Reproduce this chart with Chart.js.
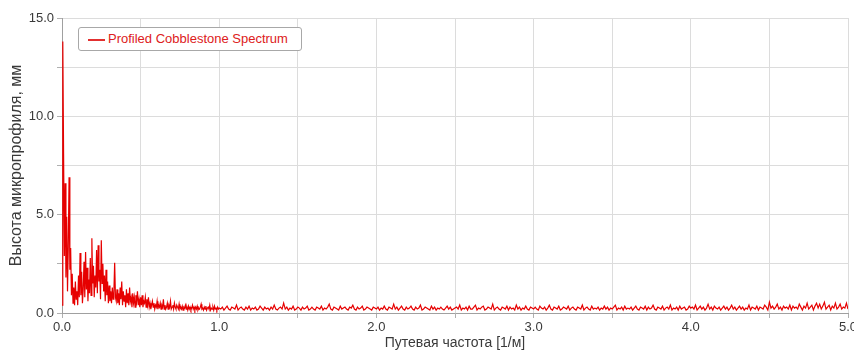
<!DOCTYPE html>
<html><head><meta charset="utf-8">
<script src="https://cdn.jsdelivr.net/npm/chart.js@4/dist/chart.umd.min.js"></script>
<style>
html,body{margin:0;padding:0;background:#fff;}
#wrap{position:relative;width:854px;height:354px;}
#legend{position:absolute;left:78px;top:27px;width:224px;height:24px;border:1px solid #a8a8a8;border-radius:3px;background:#fff;box-sizing:border-box;font:13px "Liberation Sans",Arial,sans-serif;color:#dd2020;white-space:nowrap;}
#legend .ln{position:absolute;left:9px;top:11px;width:17px;height:2px;background:#e23030;display:block;}
#legend .tx{position:absolute;left:29px;top:3px;}
</style></head>
<body><div id="wrap"><canvas id="c" width="854" height="354"></canvas>
<div id="legend"><div class="ln"></div><span class="tx" id="legendText"></span></div></div>
<script>
const seriesName = "Profiled Cobblestone Spectrum";
const xTitle = "Путевая частота [1/м]";
const yTitle = "Высота микропрофиля, мм";
// Low-frequency part: 0.000 .. 1.000, sample step 0.005
const lowStart = 0, lowStep = 0.005;
const lowValues = [
0.4,13.8,8.1,2.9,6.6,1.8,4.9,1.1,3.4,6.9,
2.2,3.3,0.9,2.0,0.5,1.3,0.4,1.6,0.7,1.1,
0.4,1.9,0.8,3.05,0.9,2.1,0.5,1.2,2.6,0.8,
3.1,1.2,2.3,0.6,1.7,1.0,2.8,0.9,3.8,1.5,
2.4,0.8,1.9,1.3,3.2,1.0,3.45,1.6,2.2,0.7,
3.7,1.5,2.5,1.1,1.9,0.6,2.2,0.9,1.6,0.5,
1.4,0.6,1.1,0.5,1.3,0.7,1.0,2.55,0.8,0.6,
1.2,0.5,1.0,0.4,1.3,0.7,1.6,0.4,1.1,0.6,
0.9,0.3,1.2,0.5,1.0,0.4,1.3,0.6,0.8,0.3,
1.0,0.5,0.8,0.3,0.9,0.6,1.1,0.4,0.7,0.3,
0.8,0.4,0.9,0.3,0.6,0.5,0.8,0.3,0.7,0.4,
0.8,0.3,0.5,0.2,0.4,0.6,0.3,0.5,0.2,0.4,
0.3,0.6,0.2,0.4,0.3,0.5,0.2,0.4,0.3,0.7,
0.2,0.4,0.2,0.3,0.5,0.2,0.4,0.3,0.6,0.2,
0.3,0.4,0.2,0.5,0.3,0.2,0.4,0.3,0.2,0.45,
0.2,0.3,0.2,0.35,0.15,0.3,0.25,0.4,0.2,0.3,
0.15,0.35,0.2,0.3,0.15,0.25,0.4,0.2,0.3,0.15,
0.3,0.2,0.35,0.15,0.25,0.2,0.3,0.45,0.2,0.25,
0.15,0.3,0.2,0.35,0.15,0.25,0.3,0.2,0.4,0.15,
0.25,0.2,0.3,0.15,0.35,0.2,0.25,0.15,0.3,0.2,
0.25
];
// High-frequency part: 1.01 .. 5.00, sample step 0.01
const highStart = 1.01, highStep = 0.01;
const highValues = [
0.2,0.3,0.15,0.25,0.35,0.2,0.15,0.3,0.25,0.2,0.4,0.15,0.25,0.3,0.2,0.15,0.3,0.2,0.35,0.15,
0.25,0.2,0.3,0.15,0.2,0.35,0.25,0.15,0.3,0.2,0.25,0.15,0.3,0.2,0.4,0.2,0.15,0.25,0.3,0.2,
0.5,0.2,0.3,0.15,0.25,0.2,0.35,0.15,0.2,0.3,0.25,0.15,0.3,0.2,0.25,0.35,0.15,0.2,0.3,0.2,
0.15,0.3,0.25,0.2,0.35,0.15,0.25,0.2,0.3,0.45,0.2,0.15,0.3,0.25,0.2,0.15,0.35,0.2,0.25,0.3,
0.2,0.15,0.3,0.25,0.4,0.2,0.15,0.3,0.2,0.25,0.35,0.15,0.2,0.3,0.25,0.2,0.15,0.3,0.25,0.2,
0.3,0.15,0.25,0.2,0.35,0.2,0.15,0.3,0.25,0.2,0.45,0.2,0.3,0.15,0.25,0.35,0.2,0.15,0.3,0.2,
0.25,0.35,0.2,0.15,0.3,0.2,0.25,0.4,0.15,0.2,0.3,0.25,0.2,0.15,0.35,0.2,0.3,0.15,0.25,0.2,
0.3,0.2,0.15,0.25,0.35,0.2,0.3,0.15,0.2,0.25,0.3,0.2,0.4,0.15,0.25,0.2,0.3,0.15,0.35,0.2,
0.2,0.3,0.4,0.15,0.25,0.2,0.3,0.35,0.15,0.2,0.3,0.25,0.2,0.45,0.15,0.25,0.3,0.2,0.15,0.3,
0.25,0.2,0.35,0.15,0.3,0.2,0.25,0.15,0.4,0.2,0.3,0.15,0.25,0.2,0.35,0.2,0.15,0.3,0.25,0.2,
0.3,0.2,0.15,0.35,0.25,0.2,0.3,0.15,0.25,0.4,0.2,0.15,0.3,0.25,0.2,0.35,0.15,0.2,0.3,0.25,
0.2,0.35,0.15,0.25,0.3,0.2,0.15,0.3,0.25,0.2,0.4,0.15,0.25,0.3,0.2,0.15,0.35,0.2,0.25,0.2,
0.3,0.15,0.25,0.2,0.35,0.2,0.3,0.15,0.25,0.2,0.3,0.4,0.15,0.25,0.2,0.3,0.15,0.35,0.2,0.25,
0.2,0.3,0.15,0.25,0.35,0.2,0.15,0.3,0.25,0.2,0.35,0.15,0.3,0.2,0.25,0.4,0.2,0.15,0.3,0.25,
0.2,0.35,0.15,0.25,0.3,0.2,0.4,0.15,0.25,0.2,0.3,0.15,0.35,0.2,0.25,0.3,0.15,0.2,0.35,0.25,
0.3,0.2,0.4,0.15,0.25,0.35,0.2,0.3,0.15,0.25,0.45,0.2,0.3,0.15,0.35,0.25,0.2,0.3,0.15,0.25,
0.35,0.2,0.3,0.15,0.25,0.4,0.2,0.3,0.15,0.25,0.35,0.2,0.3,0.15,0.25,0.2,0.4,0.15,0.3,0.25,
0.2,0.35,0.15,0.3,0.25,0.2,0.4,0.3,0.15,0.55,0.25,0.35,0.2,0.3,0.45,0.2,0.3,0.15,0.35,0.25,
0.3,0.2,0.4,0.15,0.35,0.25,0.3,0.2,0.45,0.3,0.15,0.35,0.25,0.5,0.2,0.3,0.4,0.15,0.35,0.5,
0.25,0.45,0.2,0.35,0.55,0.2,0.3,0.4,0.15,0.35,0.25,0.5,0.2,0.3,0.45,0.2,0.3,0.25,0.5,0.2
];
const xTickLabels = ["0.0","1.0","2.0","3.0","4.0","5.0"];
const yTickLabels = ["0.0","5.0","10.0","15.0"];

document.getElementById('legendText').textContent = seriesName;

const points = [];
lowValues.forEach((v,i)=>points.push({x: +(lowStart + i*lowStep).toFixed(3), y: v}));
highValues.forEach((v,i)=>points.push({x: +(highStart + i*highStep).toFixed(3), y: v}));

const tickFont = {family: '"Liberation Sans", Arial, sans-serif', size: 13};
new Chart(document.getElementById('c'), {
  type: 'line',
  data: { datasets: [{ label: seriesName, data: points, borderColor: '#e60000', borderWidth: 1.2,
    pointRadius: 0, tension: 0, fill: false }] },
  options: {
    responsive: false, animation: false,
    layout: { padding: {left: 0, right: 6, top: 18, bottom: 0} },
    plugins: { legend: {display: false}, tooltip: {enabled: false} },
    scales: {
      x: { type: 'linear', min: 0, max: 5,
        afterFit(s){ s.height = 41; s.paddingLeft = 0; s.paddingRight = 0; },
        ticks: { stepSize: 0.5, autoSkip: false, maxRotation: 0, padding: 2, color: '#3a3a3a', font: tickFont,
          callback(v){ const s = (Math.round(v*10)/10).toFixed(1); return xTickLabels.includes(s) && Math.abs(v - Math.round(v)) < 1e-6 ? s : ''; } },
        grid: { color: '#dcdcdc', tickLength: 5, tickColor: '#b0b0b0' },
        border: { color: '#a0a0a0' },
        title: { display: true, text: xTitle, color: '#3a3a3a', font: {family: '"Liberation Sans", Arial, sans-serif', size: 14}, padding: {top: 0, bottom: 2} }
      },
      y: { min: 0, max: 15,
        afterFit(s){ s.width = 62; s.paddingTop = 0; s.paddingBottom = 0; },
        ticks: { stepSize: 2.5, autoSkip: false, padding: 3, color: '#3a3a3a', font: tickFont,
          callback(v){ const s = v.toFixed(1); return yTickLabels.includes(s) && Math.abs(v/5 - Math.round(v/5)) < 1e-6 ? s : ''; } },
        grid: { color: '#dcdcdc', tickLength: 5, tickColor: '#b0b0b0' },
        border: { color: '#a0a0a0' },
        title: { display: true, text: yTitle, color: '#3a3a3a', font: {family: '"Liberation Sans", Arial, sans-serif', size: 16}, padding: {top: 7, bottom: 0} }
      }
    }
  }
});
</script></body></html>
